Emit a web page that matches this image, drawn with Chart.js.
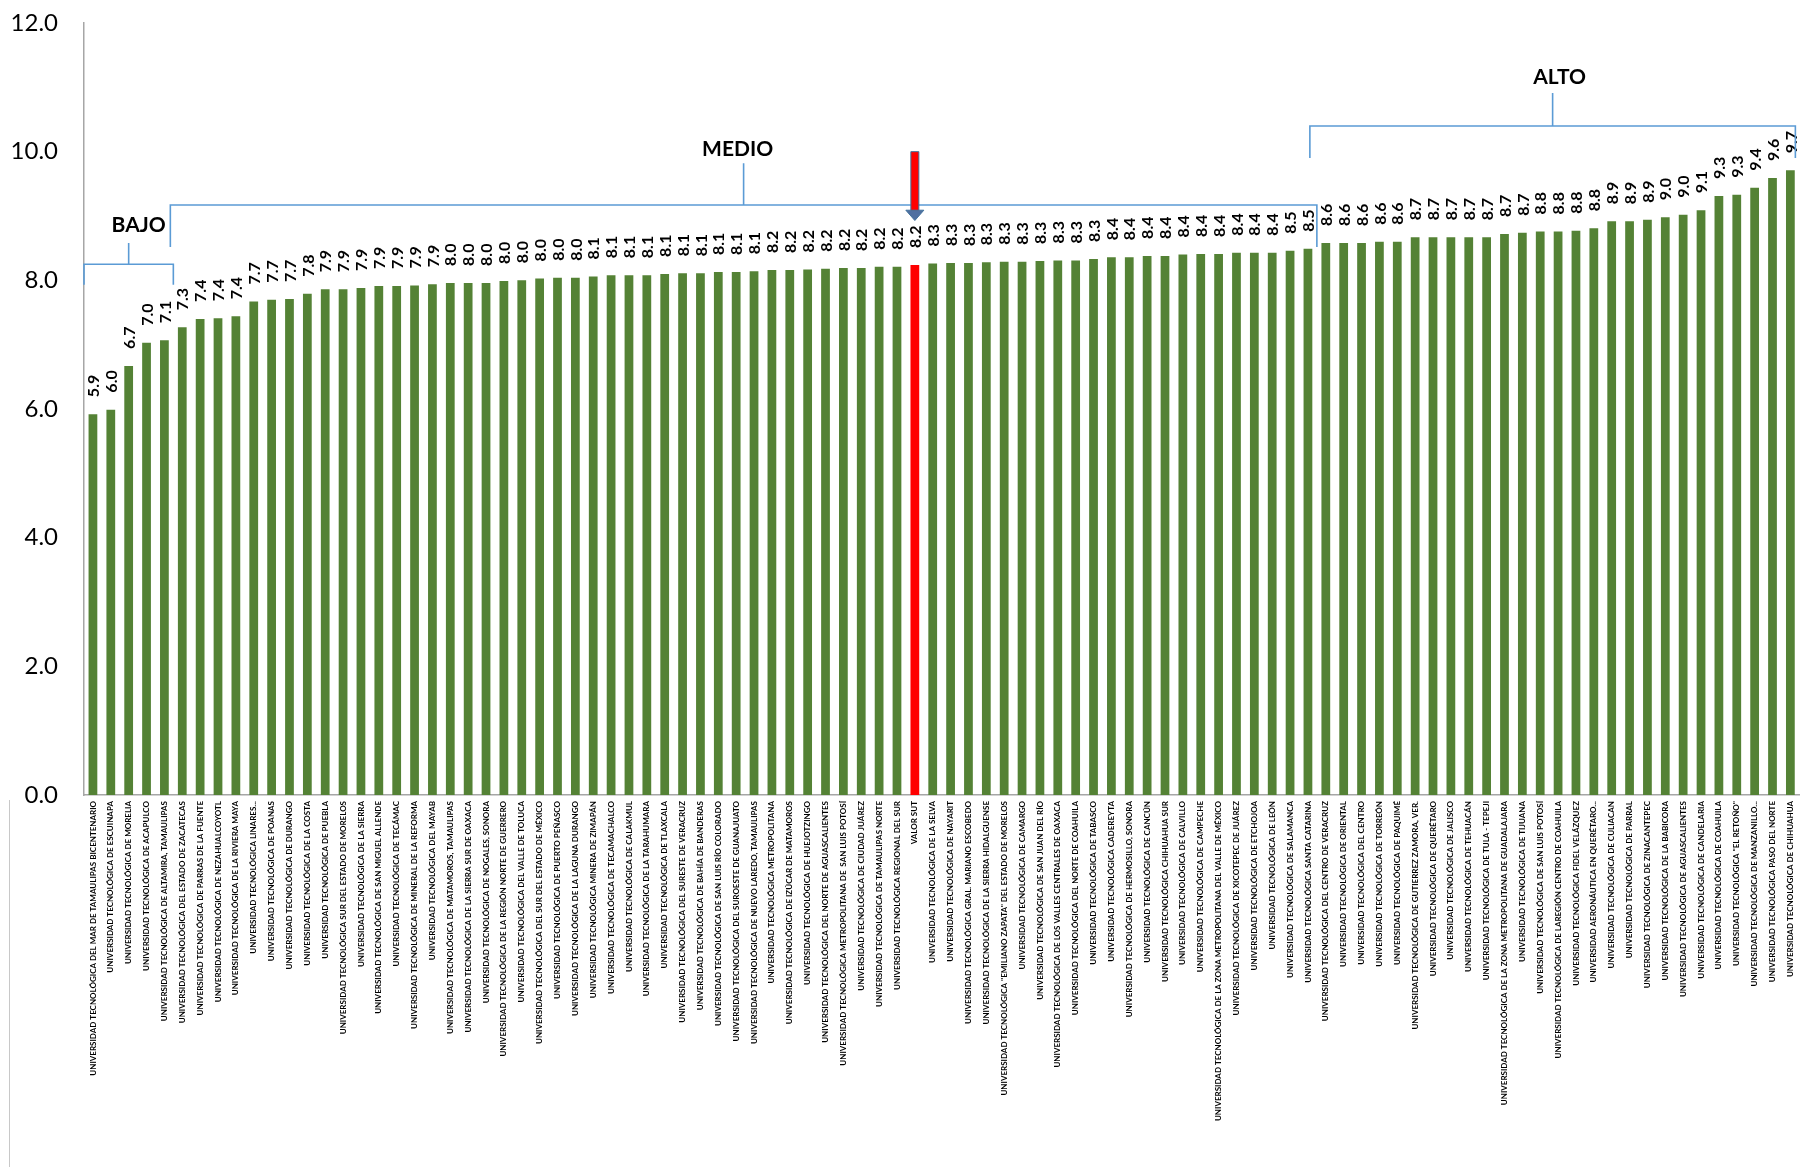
<!DOCTYPE html>
<html><head><meta charset="utf-8">
<script src="https://cdn.jsdelivr.net/npm/chart.js@4.4.0/dist/chart.umd.min.js"></script>
<style>html,body{margin:0;padding:0;background:#fff;overflow:hidden}canvas{display:block}</style>
</head><body>
<canvas id="c" width="1806" height="1167"></canvas>
<script>
const categories = [
"UNIVERSIDAD TECNOLÓGICA DEL MAR DE TAMAULIPAS BICENTENARIO",
"UNIVERSIDAD TECNOLÓGICA DE ESCUINAPA",
"UNIVERSIDAD TECNOLÓGICA DE MORELIA",
"UNIVERSIDAD TECNOLÓGICA DE ACAPULCO",
"UNIVERSIDAD TECNOLÓGICA DE ALTAMIRA, TAMAULIPAS",
"UNIVERSIDAD TECNOLÓGICA DEL ESTADO DE ZACATECAS",
"UNIVERSIDAD TECNOLÓGICA DE PARRAS DE LA FUENTE",
"UNIVERSIDAD TECNOLÓGICA DE NEZAHUALCOYOTL",
"UNIVERSIDAD TECNOLÓGICA DE LA RIVIERA MAYA",
"UNIVERSIDAD TECNOLÓGICA LINARES...",
"UNIVERSIDAD TECNOLÓGICA DE POANAS",
"UNIVERSIDAD TECNOLÓGICA DE DURANGO",
"UNIVERSIDAD TECNOLÓGICA DE LA COSTA",
"UNIVERSIDAD TECNOLÓGICA DE PUEBLA",
"UNIVERSIDAD TECNOLÓGICA SUR DEL ESTADO DE MORELOS",
"UNIVERSIDAD TECNOLÓGICA DE LA SIERRA",
"UNIVERSIDAD TECNOLÓGICA DE SAN MIGUEL ALLENDE",
"UNIVERSIDAD TECNOLÓGICA DE TECÁMAC",
"UNIVERSIDAD TECNOLÓGICA DE MINERAL DE LA REFORMA",
"UNIVERSIDAD TECNOLÓGICA DEL MAYAB",
"UNIVERSIDAD TECNOLÓGICA DE MATAMOROS, TAMAULIPAS",
"UNIVERSIDAD TECNOLÓGICA DE LA SIERRA SUR DE OAXACA",
"UNIVERSIDAD TECNOLÓGICA DE NOGALES, SONORA",
"UNIVERSIDAD TECNOLÓGICA DE LA REGIÓN NORTE DE GUERRERO",
"UNIVERSIDAD TECNOLÓGICA DEL VALLE DE TOLUCA",
"UNIVERSIDAD TECNOLÓGICA DEL SUR DEL ESTADO DE MÉXICO",
"UNIVERSIDAD TECNOLÓGICA DE PUERTO PEÑASCO",
"UNIVERSIDAD TECNOLÓGICA DE LA LAGUNA DURANGO",
"UNIVERSIDAD TECNOLÓGICA MINERA DE ZIMAPÁN",
"UNIVERSIDAD TECNOLÓGICA DE TECAMACHALCO",
"UNIVERSIDAD TECNOLÓGICA DE CALAKMUL",
"UNIVERSIDAD TECNOLÓGICA DE LA TARAHUMARA",
"UNIVERSIDAD TECNOLÓGICA DE TLAXCALA",
"UNIVERSIDAD TECNOLÓGICA DEL SURESTE DE VERACRUZ",
"UNIVERSIDAD TECNOLÓGICA DE BAHÍA DE BANDERAS",
"UNIVERSIDAD TECNOLÓGICA DE SAN LUIS RÍO COLORADO",
"UNIVERSIDAD TECNOLÓGICA DEL SUROESTE DE GUANAJUATO",
"UNIVERSIDAD TECNOLÓGICA DE NUEVO LAREDO, TAMAULIPAS",
"UNIVERSIDAD TECNOLÓGICA METROPOLITANA",
"UNIVERSIDAD TECNOLÓGICA DE IZÚCAR DE MATAMOROS",
"UNIVERSIDAD TECNOLÓGICA DE HUEJOTZINGO",
"UNIVERSIDAD TECNOLÓGICA DEL NORTE DE AGUASCALIENTES",
"UNIVERSIDAD TECNOLÓGICA METROPOLITANA DE  SAN LUIS POTOSÍ",
"UNIVERSIDAD TECNOLÓGICA DE CIUDAD JUÁREZ",
"UNIVERSIDAD TECNOLÓGICA DE TAMAULIPAS NORTE",
"UNIVERSIDAD TECNOLÓGICA REGIONAL DEL SUR",
"VALOR SUT",
"UNIVERSIDAD TECNOLÓGICA DE LA SELVA",
"UNIVERSIDAD TECNOLÓGICA DE NAYARIT",
"UNIVERSIDAD TECNOLÓGICA GRAL. MARIANO ESCOBEDO",
"UNIVERSIDAD TECNOLÓGICA DE LA SIERRA HIDALGUENSE",
"UNIVERSIDAD TECNOLÓGICA \"EMILIANO ZAPATA\" DEL ESTADO DE MORELOS",
"UNIVERSIDAD TECNOLÓGICA DE CAMARGO",
"UNIVERSIDAD TECNOLÓGICA DE SAN JUAN DEL RÍO",
"UNIVERSIDAD TECNOLÓGICA DE LOS VALLES CENTRALES DE OAXACA",
"UNIVERSIDAD TECNOLÓGICA DEL NORTE DE COAHUILA",
"UNIVERSIDAD TECNOLÓGICA DE TABASCO",
"UNIVERSIDAD TECNOLÓGICA CADEREYTA",
"UNIVERSIDAD TECNOLÓGICA DE HERMOSILLO, SONORA",
"UNIVERSIDAD TECNOLÓGICA DE CANCÚN",
"UNIVERSIDAD TECNOLÓGICA CHIHUAHUA SUR",
"UNIVERSIDAD TECNOLÓGICA DE CALVILLO",
"UNIVERSIDAD TECNOLÓGICA DE CAMPECHE",
"UNIVERSIDAD TECNOLÓGICA DE LA ZONA METROPOLITANA DEL VALLE DE MÉXICO",
"UNIVERSIDAD TECNOLÓGICA DE XICOTEPEC DE JUÁREZ",
"UNIVERSIDAD TECNOLÓGICA DE ETCHOJOA",
"UNIVERSIDAD TECNOLÓGICA DE LEÓN",
"UNIVERSIDAD TECNOLÓGICA DE SALAMANCA",
"UNIVERSIDAD TECNOLÓGICA SANTA CATARINA",
"UNIVERSIDAD TECNOLÓGICA DEL CENTRO DE VERACRUZ",
"UNIVERSIDAD TECNOLÓGICA DE ORIENTAL",
"UNIVERSIDAD TECNOLÓGICA DEL CENTRO",
"UNIVERSIDAD TECNOLÓGICA DE TORREÓN",
"UNIVERSIDAD TECNOLÓGICA DE PAQUIMÉ",
"UNIVERSIDAD TECNOLÓGICA DE GUTIERREZ ZAMORA, VER.",
"UNIVERSIDAD TECNOLÓGICA DE QUERÉTARO",
"UNIVERSIDAD TECNOLÓGICA DE JALISCO",
"UNIVERSIDAD TECNOLÓGICA DE TEHUACÁN",
"UNIVERSIDAD TECNOLÓGICA DE TULA - TEPEJI",
"UNIVERSIDAD TECNOLÓGICA DE LA ZONA METROPOLITANA DE GUADALAJARA",
"UNIVERSIDAD TECNOLÓGICA DE TIJUANA",
"UNIVERSIDAD TECNOLÓGICA DE SAN LUIS POTOSÍ",
"UNIVERSIDAD TECNOLÓGICA DE LAREGIÓN CENTRO DE COAHUILA",
"UNIVERSIDAD TECNOLÓGICA FIDEL VELÁZQUEZ",
"UNIVERSIDAD AERONÁUTICA EN QUERÉTARO...",
"UNIVERSIDAD TECNOLÓGICA DE CULIACAN",
"UNIVERSIDAD TECNOLÓGICA DE PARRAL",
"UNIVERSIDAD TECNOLÓGICA DE ZINACANTEPEC",
"UNIVERSIDAD TECNOLÓGICA DE LA BABICORA",
"UNIVERSIDAD TECNOLÓGICA DE AGUASCALIENTES",
"UNIVERSIDAD TECNOLÓGICA DE CANDELARIA",
"UNIVERSIDAD TECNOLÓGICA DE COAHUILA",
"UNIVERSIDAD TECNOLÓGICA \"EL RETOÑO\"",
"UNIVERSIDAD TECNOLÓGICA DE MANZANILLO...",
"UNIVERSIDAD TECNOLÓGICA PASO DEL NORTE",
"UNIVERSIDAD TECNOLÓGICA DE CHIHUAHUA"
];

const values = [
5.92, 5.99, 6.67, 7.03, 7.07, 7.27, 7.40, 7.41, 7.44, 7.67,
7.70, 7.71, 7.79, 7.86, 7.86, 7.88, 7.91, 7.91, 7.92, 7.94,
7.96, 7.96, 7.96, 7.99, 8.00, 8.03, 8.04, 8.04, 8.06, 8.08,
8.08, 8.08, 8.10, 8.11, 8.11, 8.13, 8.13, 8.14, 8.16, 8.16,
8.17, 8.18, 8.19, 8.19, 8.21, 8.21, 8.24, 8.26, 8.27, 8.27,
8.28, 8.29, 8.29, 8.30, 8.31, 8.31, 8.33, 8.36, 8.36, 8.38,
8.38, 8.40, 8.41, 8.41, 8.43, 8.43, 8.43, 8.46, 8.49, 8.58,
8.58, 8.58, 8.60, 8.60, 8.67, 8.67, 8.67, 8.67, 8.67, 8.72,
8.74, 8.76, 8.76, 8.77, 8.81, 8.92, 8.92, 8.94, 8.98, 9.02,
9.09, 9.31, 9.33, 9.44, 9.59, 9.71
];

const highlightCategory = "VALOR SUT";
const yTickValues = [0, 2, 4, 6, 8, 10, 12];

// level groups: name, first bar index, last bar index
const groupNames = ["BAJO", "MEDIO", "ALTO"];
const groupFirst = [0, 5, 69];
const groupLast  = [4, 68, 95];

const GREEN = "#548235";
const RED = "#FF0000";
const BLUE = "#5B9BD5";

const barColors = categories.map(c => c === highlightCategory ? RED : GREEN);

// bracket geometry (in y-axis value units) + pixel nudges
const bracketStyle = [
  {line: 8.25, ends: 7.93, tick: 8.58, text: 8.86, leftAdj: 0, rightAdj: 0, dx: 10},
  {line: 9.17, ends: 8.52, tick: 9.82, text: 10.04, leftAdj: -3, rightAdj: 0, dx: -6},
  {line: 10.40, ends: 9.90, tick: 10.91, text: 11.16, leftAdj: -7, rightAdj: 0, dx: 7}
];

const annotationPlugin = {
  id: 'annot',
  beforeDraw(chart) {
    const ctx = chart.ctx;
    ctx.save();
    ctx.strokeStyle = '#C8C8C8';
    ctx.lineWidth = 1;
    ctx.beginPath();
    ctx.moveTo(9.5, chart.chartArea.bottom + 5);
    ctx.lineTo(9.5, chart.height);
    ctx.stroke();
    ctx.restore();
  },
  afterDatasetsDraw(chart) {
    const ctx = chart.ctx;
    const meta = chart.getDatasetMeta(0);
    const ys = chart.scales.y;
    const els = meta.data;
    // value labels
    ctx.save();
    ctx.fillStyle = '#000';
    ctx.font = 'bold 16px Lato, "Liberation Sans", sans-serif';
    ctx.textAlign = 'left';
    ctx.textBaseline = 'middle';
    els.forEach((el, i) => {
      ctx.save();
      ctx.translate(el.x + 1, el.y - 17);
      ctx.rotate(-Math.PI / 2);
      ctx.fillText(values[i].toFixed(1), 0, 0);
      ctx.restore();
    });
    ctx.restore();

    // brackets
    const boundary = (i) => (els[i].x + els[i + 1].x) / 2;
    ctx.save();
    ctx.strokeStyle = BLUE;
    ctx.lineWidth = 1.6;
    for (let g = 0; g < groupNames.length; g++) {
      const s = bracketStyle[g];
      let left = groupFirst[g] === 0 ? chart.chartArea.left : boundary(groupFirst[g] - 1);
      let right = groupLast[g] === els.length - 1 ? els[els.length - 1].x + 5 : boundary(groupLast[g]);
      left += s.leftAdj; right += s.rightAdj;
      const yl = ys.getPixelForValue(s.line);
      const ye = ys.getPixelForValue(s.ends);
      const yt = ys.getPixelForValue(s.tick);
      const mid = (left + right) / 2;
      ctx.beginPath();
      ctx.moveTo(left, ye); ctx.lineTo(left, yl); ctx.lineTo(right, yl); ctx.lineTo(right, ye);
      ctx.moveTo(mid, yl); ctx.lineTo(mid, yt);
      ctx.stroke();
      ctx.fillStyle = '#000';
      ctx.font = 'bold 21px Lato, "Liberation Sans", sans-serif';
      ctx.textAlign = 'center';
      ctx.textBaseline = 'middle';
      ctx.fillText(groupNames[g], mid + s.dx, ys.getPixelForValue(s.text));
    }
    ctx.restore();

    // arrow pointing at highlighted bar
    const hi = categories.indexOf(highlightCategory);
    const ax = els[hi].x;
    const yTop = ys.getPixelForValue(10.0);
    const yShaftEnd = ys.getPixelForValue(9.09);
    const yTip = ys.getPixelForValue(8.93);
    ctx.save();
    ctx.fillStyle = '#4F6FA0';
    ctx.strokeStyle = '#41719C';
    ctx.lineWidth = 1;
    ctx.beginPath();
    ctx.moveTo(ax - 9, yShaftEnd); ctx.lineTo(ax + 9, yShaftEnd); ctx.lineTo(ax, yTip); ctx.closePath();
    ctx.fill(); ctx.stroke();
    ctx.fillStyle = RED;
    ctx.beginPath();
    ctx.rect(ax - 4, yTop, 8, yShaftEnd - yTop);
    ctx.fill(); ctx.stroke();
    ctx.restore();
  }
};

new Chart(document.getElementById('c'), {
  type: 'bar',
  data: {
    labels: categories,
    datasets: [{
      data: values,
      backgroundColor: barColors,
      borderWidth: 0,
      barPercentage: 0.49,
      categoryPercentage: 1.0
    }]
  },
  options: {
    responsive: false,
    animation: false,
    devicePixelRatio: 1,
    layout: {padding: {top: 23, right: 6, left: 0, bottom: 0}},
    plugins: {legend: {display: false}, tooltip: {enabled: false}, title: {display: false}},
    scales: {
      x: {
        grid: {display: false, drawTicks: false},
        border: {display: true, color: '#A6A6A6', width: 1.5},
        ticks: {
          autoSkip: false, minRotation: 90, maxRotation: 90, padding: 6,
          color: '#000', font: {family: 'Lato, "Liberation Sans", sans-serif', size: 8, weight: 'bold'}
        },
        afterFit(scale) { scale.height = 372; }
      },
      y: {
        min: 0, max: 12,
        grid: {display: false, drawTicks: true, tickLength: 23},
        border: {display: true, color: '#A6A6A6', width: 1.5},
        afterBuildTicks(scale) { scale.ticks = yTickValues.map(v => ({value: v})); },
        ticks: {
          padding: 3, color: '#000',
          font: {family: 'Lato, "Liberation Sans", sans-serif', size: 24},
          callback: v => Number(v).toFixed(1)
        },
        afterFit(scale) { scale.width = 84; }
      }
    }
  },
  plugins: [annotationPlugin]
});
</script>
</body></html>
